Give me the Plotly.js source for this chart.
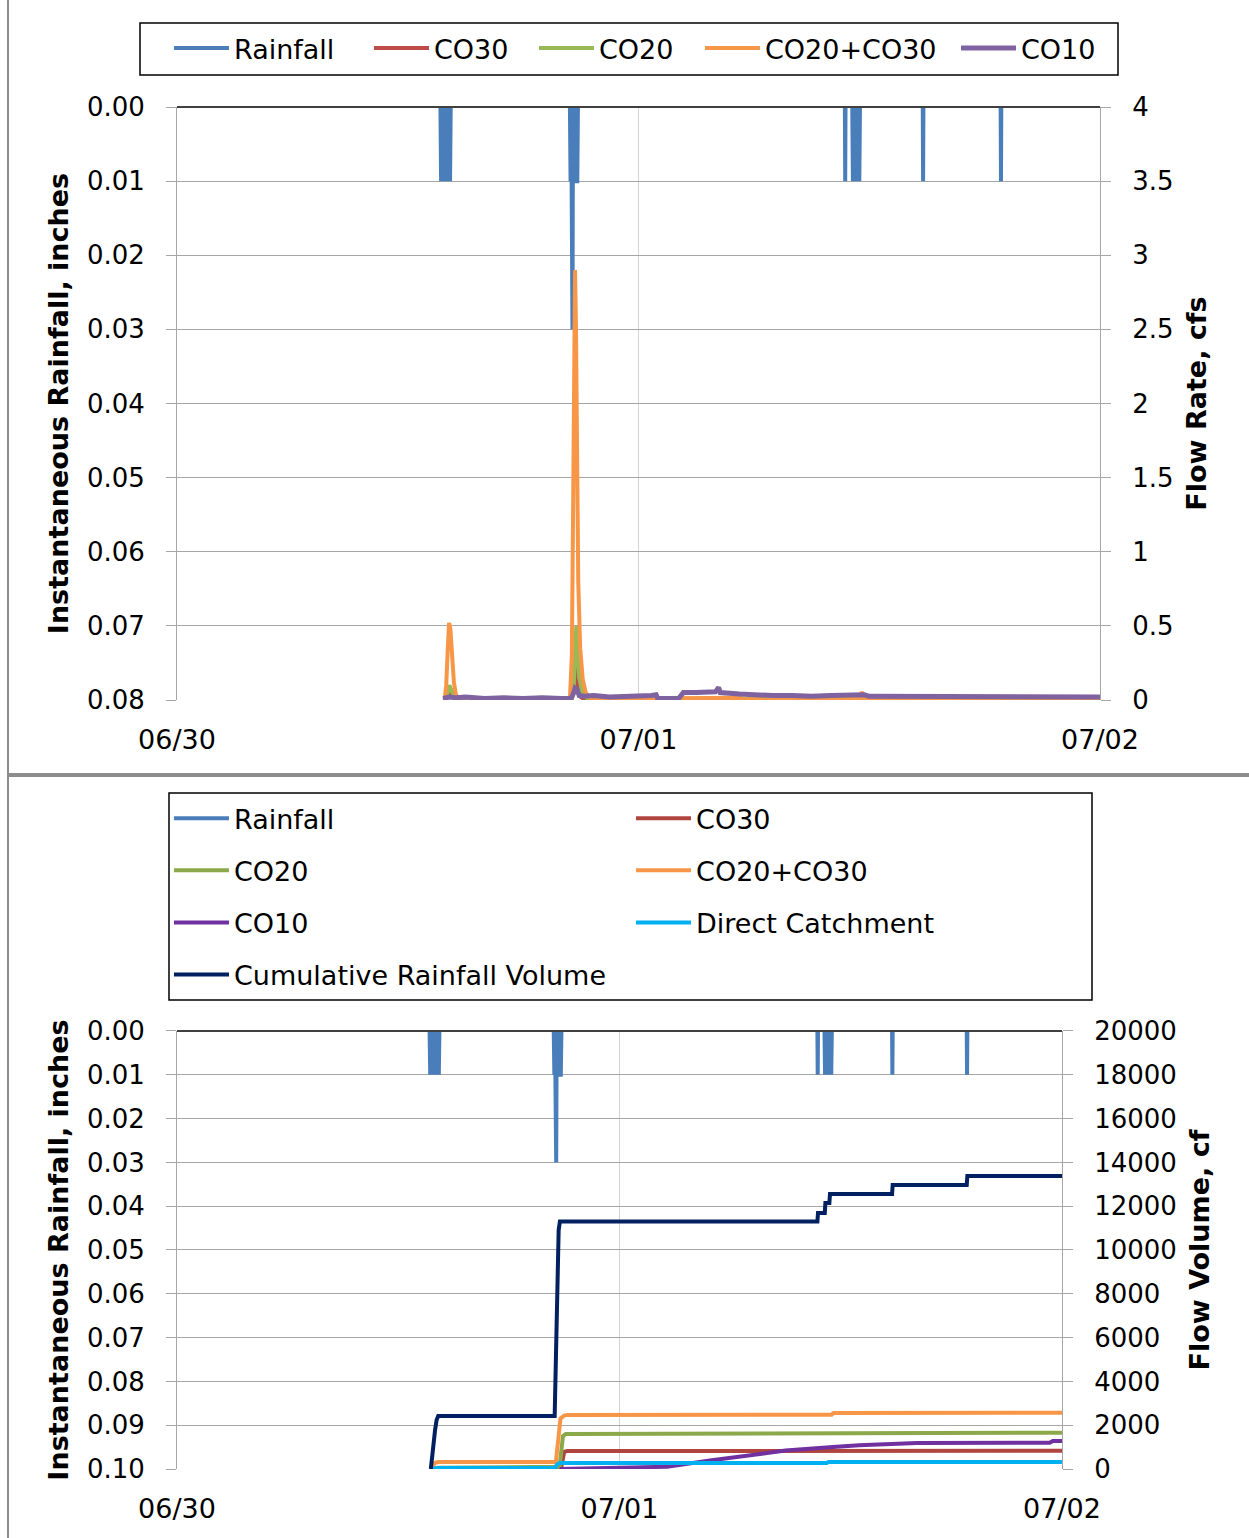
<!DOCTYPE html>
<html>
<head>
<meta charset="utf-8">
<script src="https://cdn.plot.ly/plotly-3.0.1.min.js"></script>
<style>
  html, body { margin: 0; padding: 0; background: #fff; }
  #wrap { position: relative; width: 1249px; height: 1538px; overflow: hidden; }
  #chart { position: absolute; left: 0; top: 0; width: 1249px; height: 1538px; }
  .frameL { position: absolute; left: 7px; top: 0; width: 2px; height: 1538px; background: #8c8c8c; }
  .frameH { position: absolute; left: 7px; top: 773px; width: 1242px; height: 4px; background: #8c8c8c; }
</style>
</head>
<body>
<div id="wrap">
  <div id="chart"></div>
  <div class="frameL"></div>
  <div class="frameH"></div>
</div>
<script>
// ---------------- DATA ----------------
// Instantaneous rainfall (inches), shared by both panels; null = no reading
const rain_time = [
  "2014-06-30 13:42","2014-06-30 13:44","2014-06-30 13:46","2014-06-30 13:48","2014-06-30 13:50","2014-06-30 13:52",
  "2014-06-30 13:54","2014-06-30 13:56","2014-06-30 13:58","2014-06-30 14:00","2014-06-30 14:02","2014-06-30 14:04",
  "2014-06-30 14:06","2014-06-30 14:08","2014-06-30 14:10","2014-06-30 14:12","2014-06-30 14:14",
  "2014-06-30 17:00",
  "2014-06-30 20:26","2014-06-30 20:28","2014-06-30 20:30","2014-06-30 20:31","2014-06-30 20:32","2014-06-30 20:34",
  "2014-06-30 20:35","2014-06-30 20:37","2014-06-30 20:39","2014-06-30 20:41","2014-06-30 20:43","2014-06-30 20:45",
  "2014-06-30 20:47","2014-06-30 20:49","2014-06-30 20:51",
  "2014-07-01 04:00",
  "2014-07-01 10:44","2014-07-01 10:45","2014-07-01 10:46",
  "2014-07-01 11:00",
  "2014-07-01 11:07","2014-07-01 11:09","2014-07-01 11:11","2014-07-01 11:13","2014-07-01 11:15","2014-07-01 11:17",
  "2014-07-01 11:19","2014-07-01 11:21","2014-07-01 11:23","2014-07-01 11:25","2014-07-01 11:27","2014-07-01 11:29",
  "2014-07-01 11:31",
  "2014-07-01 13:00",
  "2014-07-01 14:47","2014-07-01 14:48","2014-07-01 14:49",
  "2014-07-01 17:00",
  "2014-07-01 18:50","2014-07-01 18:51","2014-07-01 18:52"
];
const rain_value = [
  0,0.01,0,0.01,0,0.01,
  0,0.01,0,0.01,0,0.01,
  0,0.01,0,0.01,0,
  null,
  0,0.01,0,0.01,0.02,0.03,
  0.01,0,0.01,0,0.01,0,
  0.01,0.01,0,
  null,
  0,0.01,0,
  null,
  0,0.01,0,0.01,0,0.01,
  0,0.01,0,0.01,0,0.01,
  0,
  null,
  0,0.01,0,
  null,
  0,0.01,0
];

// ---- Top panel: flow rate (cfs) ----
const co30_rate_time = ["2014-06-30 13:55","2014-06-30 14:08","2014-06-30 14:12","2014-06-30 14:20","2014-06-30 14:30",
  "2014-06-30 20:30","2014-06-30 20:38","2014-06-30 20:42","2014-06-30 20:46","2014-06-30 20:52","2014-06-30 21:00",
  "2014-06-30 21:15","2014-07-02 00:00"];
const co30_rate = [0,0.03,0.06,0.03,0,0,0.1,0.32,0.2,0.08,0.02,0,0];

const co20_rate_time = ["2014-06-30 13:55","2014-06-30 14:05","2014-06-30 14:10","2014-06-30 14:16","2014-06-30 14:25",
  "2014-06-30 14:35","2014-06-30 20:30","2014-06-30 20:38","2014-06-30 20:42","2014-06-30 20:46","2014-06-30 20:50",
  "2014-06-30 20:55","2014-06-30 21:05","2014-06-30 21:20","2014-07-02 00:00"];
const co20_rate = [0,0.05,0.1,0.07,0.02,0.005,0.005,0.1,0.3,0.5,0.35,0.15,0.05,0.01,0.005];

const co2030_rate_time = ["2014-06-30 13:55","2014-06-30 14:00","2014-06-30 14:05","2014-06-30 14:09","2014-06-30 14:13",
  "2014-06-30 14:18","2014-06-30 14:24","2014-06-30 14:30","2014-06-30 14:36","2014-06-30 20:26","2014-06-30 20:32",
  "2014-06-30 20:36","2014-06-30 20:39","2014-06-30 20:42","2014-06-30 20:45","2014-06-30 20:48","2014-06-30 20:52",
  "2014-06-30 20:58","2014-06-30 21:06","2014-06-30 21:15","2014-06-30 21:30","2014-07-01 00:00","2014-07-01 02:20",
  "2014-07-01 05:20","2014-07-01 05:25","2014-07-01 11:30","2014-07-01 11:34","2014-07-01 11:37","2014-07-01 11:40",
  "2014-07-01 11:44","2014-07-02 00:00"];
const co2030_rate = [0,0.1,0.35,0.52,0.48,0.3,0.12,0.04,0.01,0.01,0.3,1.3,2.5,2.9,2.5,1.6,0.8,0.35,0.14,0.05,0.01,
  0.01,0.015,0.015,0.005,0.005,0.03,0.055,0.03,0.005,0.005];

const co10_rate_time = ["2014-06-30 13:50","2014-06-30 14:10","2014-06-30 14:30","2014-06-30 15:00","2014-06-30 16:00",
  "2014-06-30 17:00","2014-06-30 18:00","2014-06-30 19:00","2014-06-30 20:00","2014-06-30 20:30","2014-06-30 20:38",
  "2014-06-30 20:42","2014-06-30 20:48","2014-06-30 20:55","2014-06-30 21:10","2014-06-30 21:40","2014-06-30 22:30",
  "2014-06-30 23:30","2014-07-01 00:00","2014-07-01 00:40","2014-07-01 00:55","2014-07-01 01:00","2014-07-01 02:05",
  "2014-07-01 02:20","2014-07-01 03:00","2014-07-01 04:00","2014-07-01 04:10","2014-07-01 04:15","2014-07-01 05:15",
  "2014-07-01 06:00","2014-07-01 07:00","2014-07-01 08:00","2014-07-01 09:00","2014-07-01 10:00","2014-07-01 11:00",
  "2014-07-01 11:45","2014-07-01 12:00","2014-07-01 13:00","2014-07-01 15:00","2014-07-01 17:00","2014-07-01 19:00",
  "2014-07-01 21:00","2014-07-01 23:00","2014-07-02 00:00"];
const co10_rate = [0.01,0.02,0.015,0.02,0.01,0.015,0.01,0.015,0.01,0.01,0.05,0.08,0.07,0.03,0.025,0.03,0.02,
  0.025,0.02,0.03,0.035,0.01,0.01,0.05,0.05,0.055,0.085,0.05,0.04,0.035,0.03,0.03,0.025,0.03,0.03,0.035,0.025,
  0.025,0.02,0.025,0.02,0.025,0.02,0.02];

// ---- Bottom panel: flow volume (cf) ----
const co30_vol_time = ["2014-06-30 13:50","2014-06-30 14:10","2014-06-30 20:50","2014-06-30 20:55","2014-06-30 21:00",
  "2014-06-30 21:10","2014-07-02 00:00"];
const co30_vol = [0,30,40,500,780,820,830];

const co20_vol_time = ["2014-06-30 13:50","2014-06-30 14:10","2014-06-30 20:45","2014-06-30 20:50","2014-06-30 20:56",
  "2014-06-30 21:05","2014-07-01 11:30","2014-07-01 11:36","2014-07-02 00:00"];
const co20_vol = [0,60,100,1000,1500,1600,1610,1650,1660];

const co2030_vol_time = ["2014-06-30 13:47","2014-06-30 13:52","2014-06-30 14:00","2014-06-30 14:10","2014-06-30 20:33",
  "2014-06-30 20:40","2014-06-30 20:48","2014-06-30 21:00","2014-06-30 21:10","2014-07-01 11:30","2014-07-01 11:36",
  "2014-07-02 00:00"];
const co2030_vol = [0,150,280,320,320,1500,2300,2440,2470,2480,2560,2570];

const co10_vol_time = ["2014-06-30 20:45","2014-07-01 00:00","2014-07-01 02:35","2014-07-01 05:00","2014-07-01 07:00",
  "2014-07-01 09:00","2014-07-01 11:35","2014-07-01 13:00","2014-07-01 16:08","2014-07-01 23:20","2014-07-01 23:30",
  "2014-07-02 00:00"];
const co10_vol = [0,60,105,400,640,840,1000,1080,1190,1200,1280,1280];

const direct_vol_time = ["2014-06-30 13:46","2014-06-30 14:10","2014-06-30 20:30","2014-06-30 20:36","2014-06-30 20:45",
  "2014-07-01 11:15","2014-07-01 11:20","2014-07-02 00:00"];
const direct_vol = [0,40,40,200,270,270,320,320];

const cum_rain_time = ["2014-06-30 13:46","2014-06-30 13:50","2014-06-30 13:55","2014-06-30 14:00","2014-06-30 14:05",
  "2014-06-30 14:10","2014-06-30 20:29","2014-06-30 20:32","2014-06-30 20:35","2014-06-30 20:38","2014-06-30 20:42",
  "2014-06-30 20:46","2014-07-01 10:44","2014-07-01 10:46","2014-07-01 11:08","2014-07-01 11:10","2014-07-01 11:23",
  "2014-07-01 11:25","2014-07-01 14:47","2014-07-01 14:49","2014-07-01 18:50","2014-07-01 18:52","2014-07-02 00:00"];
const cum_rain_vol = [0,600,1300,1800,2250,2420,2420,4500,7500,9800,10900,11300,11300,11690,11690,12150,12150,
  12560,12560,12970,12970,13380,13380];

// ---- Axis ticks ----
const date_ticks = ["2014-06-30","2014-07-01","2014-07-02"];
const date_tick_labels = ["06/30","07/01","07/02"];
const rain_ticks_top = [0,0.01,0.02,0.03,0.04,0.05,0.06,0.07,0.08];
const rain_ticks_bottom = [0,0.01,0.02,0.03,0.04,0.05,0.06,0.07,0.08,0.09,0.10];
const rate_ticks = [0,0.5,1,1.5,2,2.5,3,3.5,4];
const vol_ticks = [0,2000,4000,6000,8000,10000,12000,14000,16000,18000,20000];

// ---------------- STYLE ----------------
const C = {
  rain: "#4A7EBB", co30: "#BE4B48", co20: "#98B954", co2030: "#F79646", co10: "#7F63A1",
  co30b: "#B0443F", co20b: "#8BA84A", co10b: "#7030A0", direct: "#00B0F0", cum: "#002060"
};
const FONT = "DejaVu Sans";
const W = 4;

const traces = [
  // top panel
  {x: rain_time, y: rain_value, name: "Rainfall", type: "scatter", mode: "lines", xaxis: "x", yaxis: "y",
   line: {color: C.rain, width: W}, legend: "legend"},
  {x: co30_rate_time, y: co30_rate, name: "CO30", type: "scatter", mode: "lines", xaxis: "x", yaxis: "y2",
   line: {color: C.co30, width: W}, legend: "legend4"},
  {x: co20_rate_time, y: co20_rate, name: "CO20", type: "scatter", mode: "lines", xaxis: "x", yaxis: "y2",
   line: {color: C.co20, width: W}, legend: "legend5"},
  {x: co2030_rate_time, y: co2030_rate, name: "CO20+CO30", type: "scatter", mode: "lines", xaxis: "x", yaxis: "y2",
   line: {color: C.co2030, width: W}, legend: "legend6"},
  {x: co10_rate_time, y: co10_rate, name: "CO10", type: "scatter", mode: "lines", xaxis: "x", yaxis: "y2",
   line: {color: C.co10, width: 5}, legend: "legend7"},
  // bottom panel
  {x: rain_time, y: rain_value, name: "Rainfall", type: "scatter", mode: "lines", xaxis: "x2", yaxis: "y3",
   line: {color: C.rain, width: W}, legend: "legend2", legendgroup: "b1"},
  {x: co30_vol_time, y: co30_vol, name: "CO30", type: "scatter", mode: "lines", xaxis: "x2", yaxis: "y4",
   line: {color: C.co30b, width: W}, legend: "legend3", legendgroup: "b2"},
  {x: co20_vol_time, y: co20_vol, name: "CO20", type: "scatter", mode: "lines", xaxis: "x2", yaxis: "y4",
   line: {color: C.co20b, width: W}, legend: "legend2", legendgroup: "b3"},
  {x: co2030_vol_time, y: co2030_vol, name: "CO20+CO30", type: "scatter", mode: "lines", xaxis: "x2", yaxis: "y4",
   line: {color: C.co2030, width: W}, legend: "legend3", legendgroup: "b4"},
  {x: co10_vol_time, y: co10_vol, name: "CO10", type: "scatter", mode: "lines", xaxis: "x2", yaxis: "y4",
   line: {color: C.co10b, width: W}, legend: "legend2", legendgroup: "b5"},
  {x: direct_vol_time, y: direct_vol, name: "Direct Catchment", type: "scatter", mode: "lines", xaxis: "x2", yaxis: "y4",
   line: {color: C.direct, width: W}, legend: "legend3", legendgroup: "b6"},
  {x: cum_rain_time, y: cum_rain_vol, name: "Cumulative Rainfall Volume", type: "scatter", mode: "lines", xaxis: "x2", yaxis: "y4",
   line: {color: C.cum, width: W}, legend: "legend2", legendgroup: "b7"}
];

const GRID = "#A6A6A6";
const tickFont = {family: FONT, size: 26, color: "#000"};
const titleFont = {family: FONT, size: 27, color: "#000", weight: "bold"};
const legFont = {family: FONT, size: 27, color: "#000"};

function xAx(domain, anchor) {
  return {domain: domain, anchor: anchor, type: "date",
    range: ["2014-06-30 00:00", "2014-07-02 00:00"],
    tickvals: date_ticks, ticktext: date_tick_labels,
    showgrid: true, gridcolor: "#D4D4D4", gridwidth: 1, ticks: "", showline: false, zeroline: false,
    tickfont: {family: FONT, size: 27, color: "#000"}, ticklabelstandoff: 21, fixedrange: true};
}
function leftAx(domain, anchor, maxv, tv) {
  return {domain: domain, anchor: anchor, range: [maxv, 0], tickvals: tv, tickformat: ".2f",
    showgrid: true, gridcolor: GRID, gridwidth: 1, zeroline: false,
    showline: true, linecolor: GRID, linewidth: 1, ticks: "outside", ticklen: 10, tickcolor: GRID,
    tickfont: tickFont, ticklabelstandoff: 16, automargin: false,
    title: {text: "Instantaneous Rainfall, inches", font: titleFont, standoff: 10}};
}
function rightAx(overlay, anchor, maxv, tv, fmt, title) {
  return {overlaying: overlay, anchor: anchor, side: "right", range: [0, maxv], tickvals: tv, tickformat: fmt,
    showgrid: false, zeroline: false, showline: true, linecolor: GRID, linewidth: 1,
    ticks: "outside", ticklen: 10, tickcolor: GRID, tickfont: tickFont, ticklabelstandoff: 16, automargin: false,
    title: {text: title, font: titleFont, standoff: 14}};
}
// one single-entry legend per series in the top panel's legend row
function rowLegend(x) {
  return {orientation: "h", x: x, xanchor: "left", y: 1.0609, yanchor: "top",
    borderwidth: 0, bgcolor: "rgba(0,0,0,0)", itemwidth: 55, font: legFont};
}
function colLegend(x) {
  return {orientation: "v", x: x, xanchor: "left", y: 0.4955, yanchor: "top",
    borderwidth: 0, bgcolor: "rgba(0,0,0,0)", itemwidth: 55, tracegroupgap: 14, font: legFont};
}

const topDom = [0.5646, 1];
const botDom = [0, 0.3216];

const layout = {
  width: 1249, height: 1538,
  margin: {l: 177, r: 149, t: 107, b: 69, pad: 0},
  paper_bgcolor: "#fff", plot_bgcolor: "rgba(0,0,0,0)",
  font: {family: FONT, size: 26, color: "#000"},
  showlegend: true,
  xaxis: xAx([0, 1], "y"),
  yaxis: leftAx(topDom, "x", 0.08, rain_ticks_top),
  yaxis2: rightAx("y", "x", 4, rate_ticks, "", "Flow Rate, cfs"),
  xaxis2: xAx([0, 0.95883], "y3"),
  yaxis3: leftAx(botDom, "x2", 0.10, rain_ticks_bottom),
  yaxis4: rightAx("y3", "x2", 20000, vol_ticks, "d", "Flow Volume, cf"),
  legend: rowLegend(-0.0087),
  legend4: rowLegend(0.2080),
  legend5: rowLegend(0.3868),
  legend6: rowLegend(0.5666),
  legend7: rowLegend(0.8440),
  legend2: colLegend(-0.0087),
  legend3: colLegend(0.4919),
  shapes: [
    {type: "line", xref: "x domain", yref: "y domain", x0: 0, x1: 1, y0: 1, y1: 1,
     line: {color: "#404040", width: 2}, layer: "above"},
    {type: "line", xref: "x2 domain", yref: "y3 domain", x0: 0, x1: 1, y0: 1, y1: 1,
     line: {color: "#404040", width: 2}, layer: "above"},
    {type: "rect", xref: "paper", yref: "paper", x0: -0.04009, x1: 1.01950, y0: 1.02349, y1: 1.06167,
     line: {color: "#000", width: 1.5}, fillcolor: "rgba(0,0,0,0)", layer: "below"},
    {type: "rect", xref: "paper", yref: "paper", x0: -0.00867, x1: 0.99133, y0: 0.34435, y1: 0.49633,
     line: {color: "#000", width: 1.5}, fillcolor: "rgba(0,0,0,0)", layer: "below"}
  ]
};

Plotly.newPlot("chart", traces, layout, {displayModeBar: false, staticPlot: true});
</script>
</body>
</html>
